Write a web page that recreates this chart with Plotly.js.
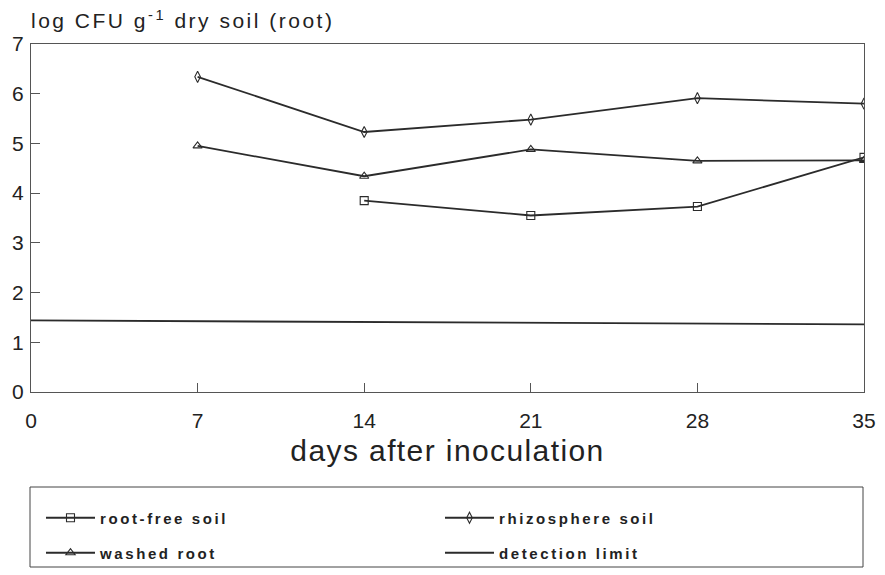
<!DOCTYPE html>
<html>
<head>
<meta charset="utf-8">
<script src="https://cdn.plot.ly/plotly-3.0.1.min.js"></script>
<style>
  html, body { margin: 0; padding: 0; background: #fff; }
  #chart { width: 885px; height: 575px; }
  .legendtext, g.legend text, g.legend2 text { letter-spacing: 2.6px; }
  .g-gtitle text, .gtitle { letter-spacing: 2.5px; }
  .g-xtitle text, .xtitle { letter-spacing: 1.4px; }
</style>
</head>
<body>
<div id="chart"></div>
<script>
// ---- data ----
const days = [7, 14, 21, 28, 35];
const rootFreeDays = [14, 21, 28, 35];
const rootFreeSoil = [3.85, 3.55, 3.73, 4.72];
const washedRoot = [4.95, 4.34, 4.88, 4.65, 4.66];
const rhizosphereSoil = [6.34, 5.23, 5.48, 5.91, 5.80];
const detectionDays = [0, 35];
const detectionLimit = [1.44, 1.36];
const xTicks = [0, 7, 14, 21, 28, 35];
const yTicks = [0, 1, 2, 3, 4, 5, 6, 7];

const ink = '#2b2b2b';
const lineStyle = { color: ink, width: 1.8 };
const mk = (sym) => ({ symbol: sym, size: 8, color: ink, line: { color: ink, width: 1.1 } });

const traces = [
  { x: rootFreeDays, y: rootFreeSoil, name: 'root-free soil', mode: 'lines+markers',
    line: lineStyle, marker: mk('square-open'), legend: 'legend' },
  { x: days, y: rhizosphereSoil, name: 'rhizosphere soil', mode: 'lines+markers',
    line: lineStyle, marker: mk('diamond-tall-open'), legend: 'legend' },
  { x: days, y: washedRoot, name: 'washed root', mode: 'lines+markers',
    line: lineStyle, marker: mk('triangle-up-open'), legend: 'legend2' },
  { x: detectionDays, y: detectionLimit, name: 'detection limit', mode: 'lines',
    line: lineStyle, legend: 'legend2' }
];

const font = 'Liberation Sans, Arial, sans-serif';
const legendCommon = {
  orientation: 'h', xanchor: 'left', yanchor: 'middle', x: 0.012, yref: 'container',
  bgcolor: 'rgba(0,0,0,0)', borderwidth: 0, entrywidth: 335, itemwidth: 49,
  font: { family: font, size: 15, color: '#222', weight: 'bold' }
};

const layout = {
  width: 885, height: 575,
  margin: { l: 31, r: 21, t: 44, b: 183, autoexpand: false },
  paper_bgcolor: '#fff', plot_bgcolor: '#fff',
  font: { family: font, color: '#222' },
  showlegend: true,
  title: { text: 'log CFU g<sup>-1</sup> dry soil (root)', x: 31 / 885, xanchor: 'left',
           y: 1 - 21 / 575, yanchor: 'middle', font: { family: font, size: 21, color: '#222' } },
  xaxis: {
    range: [0, 35], tickvals: xTicks, ticktext: xTicks.map(String), automargin: false,
    ticks: 'inside', ticklen: 9, tickcolor: '#555', tickwidth: 1,
    showline: true, mirror: true, linecolor: '#555', linewidth: 1,
    showgrid: false, zeroline: false, ticklabelstandoff: 10,
    tickfont: { family: font, size: 21, color: '#222' },
    title: { text: 'days after inoculation', standoff: 8,
             font: { family: font, size: 30, color: '#222' } }
  },
  yaxis: {
    range: [0, 7], tickvals: yTicks, ticktext: yTicks.map(String), automargin: false,
    ticks: 'inside', ticklen: 9, tickcolor: '#555', tickwidth: 1,
    showline: true, mirror: true, linecolor: '#555', linewidth: 1,
    showgrid: false, zeroline: false, ticklabelstandoff: 2,
    tickfont: { family: font, size: 21, color: '#222' }
  },
  legend: Object.assign({}, legendCommon, { y: 1 - 518 / 575 }),
  legend2: Object.assign({}, legendCommon, { y: 1 - 553 / 575 }),
  shapes: [{
    type: 'rect', xref: 'paper', yref: 'paper',
    x0: -1 / 833, x1: 832 / 833, y0: (392 - 567) / 348, y1: (392 - 487) / 348,
    line: { color: '#444', width: 1 }, fillcolor: 'rgba(0,0,0,0)'
  }]
};

Plotly.newPlot('chart', traces, layout, { displayModeBar: false, staticPlot: true }).then(() => {
  document.querySelectorAll('.legendtext').forEach(t => { t.style.letterSpacing = '2.6px'; });
});
</script>
</body>
</html>
